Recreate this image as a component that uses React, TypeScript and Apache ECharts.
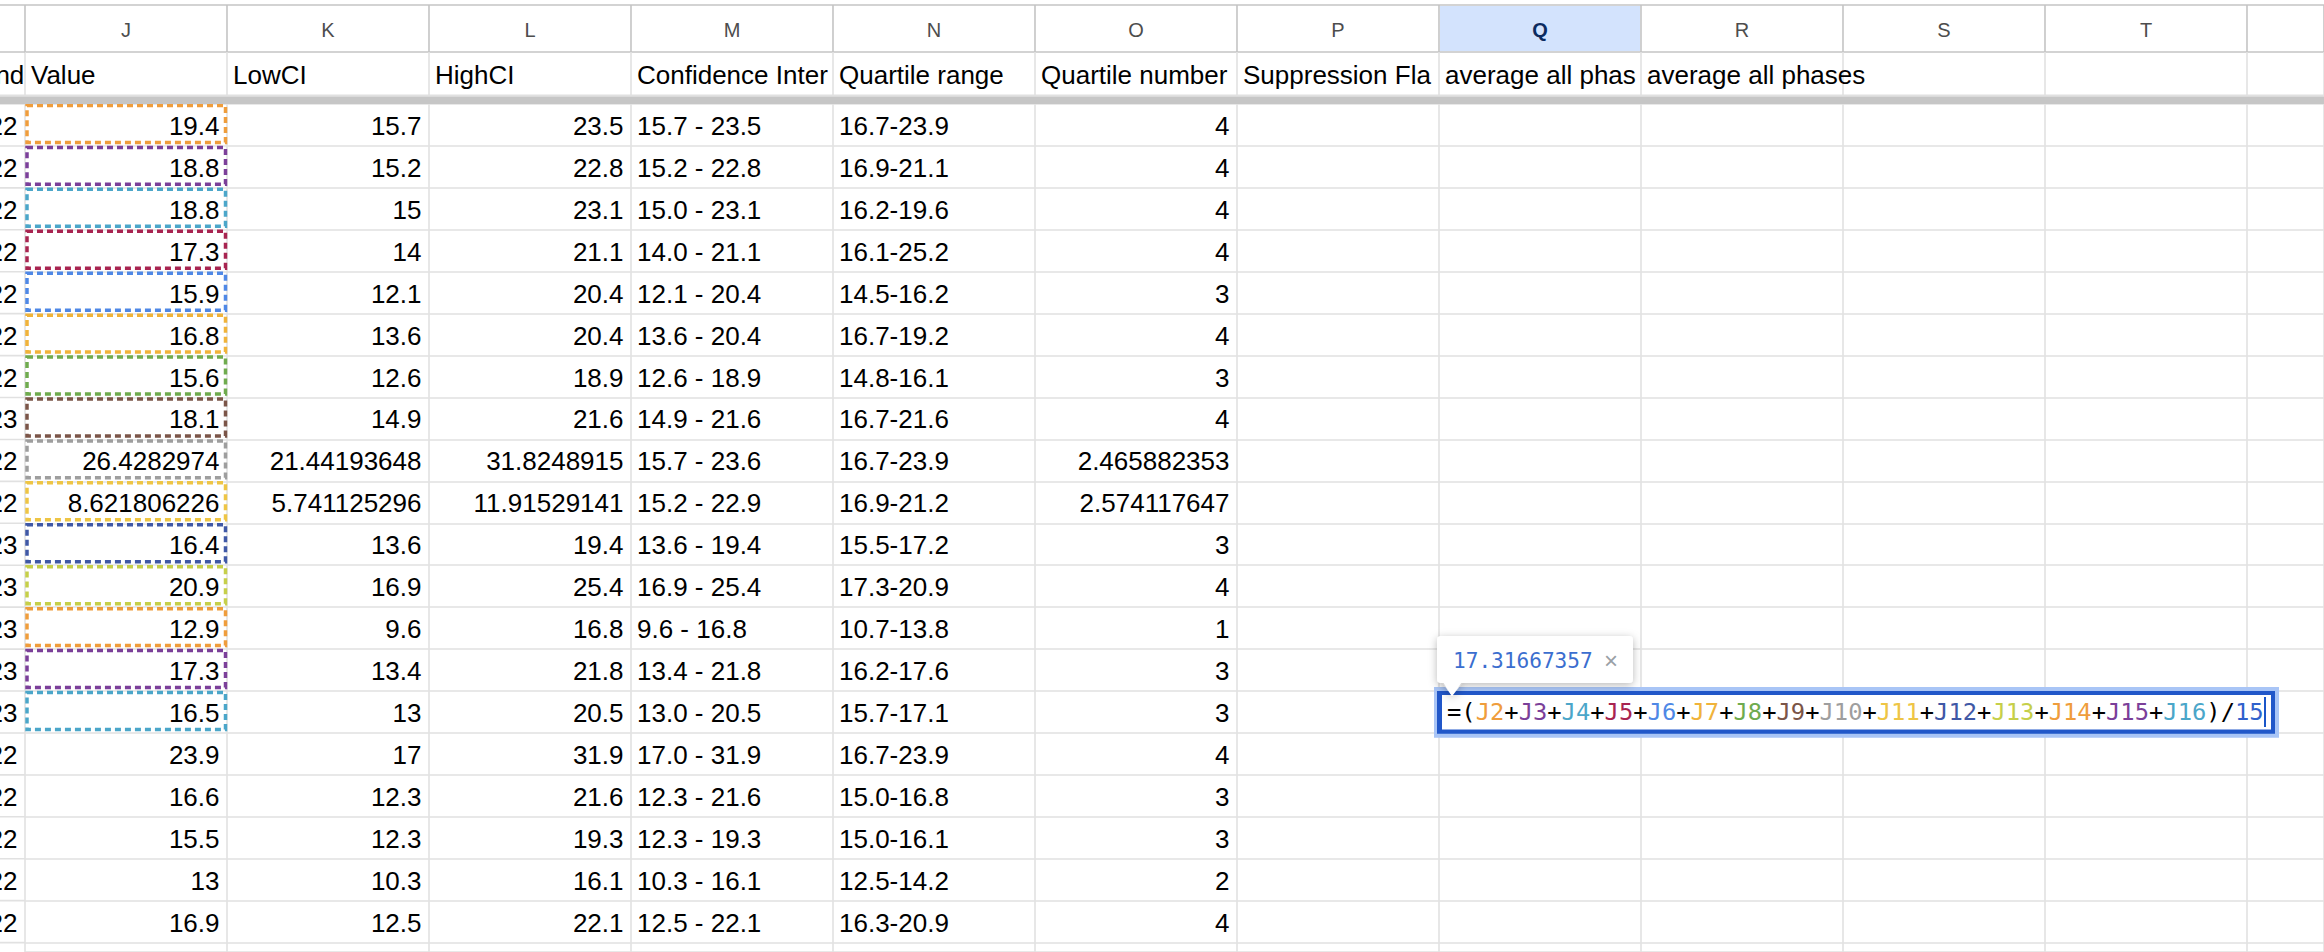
import React, { useEffect, useRef } from "react";
import * as echarts from "echarts";

// sheet content, columns J..O plus the clipped end of column I
const columnLetters = ["J", "K", "L", "M", "N", "O", "P", "Q", "R", "S", "T"];
const selectedLetter = "Q";
const headerNames = [
  "nd",
  "Value",
  "LowCI",
  "HighCI",
  "Confidence Inter",
  "Quartile range",
  "Quartile number",
  "Suppression Fla",
  "average all phas",
  "average all phases",
];
const yearEnd = ["22", "22", "22", "22", "22", "22", "22", "23", "22", "22", "23", "23", "23", "23", "23", "22", "22", "22", "22", "22"];
const values = [19.4, 18.8, 18.8, 17.3, 15.9, 16.8, 15.6, 18.1, 26.4282974, 8.621806226, 16.4, 20.9, 12.9, 17.3, 16.5, 23.9, 16.6, 15.5, 13, 16.9];
const lowCI = [15.7, 15.2, 15, 14, 12.1, 13.6, 12.6, 14.9, 21.44193648, 5.741125296, 13.6, 16.9, 9.6, 13.4, 13, 17, 12.3, 12.3, 10.3, 12.5];
const highCI = [23.5, 22.8, 23.1, 21.1, 20.4, 20.4, 18.9, 21.6, 31.8248915, 11.91529141, 19.4, 25.4, 16.8, 21.8, 20.5, 31.9, 21.6, 19.3, 16.1, 22.1];
const ciRange = [
  "15.7 - 23.5", "15.2 - 22.8", "15.0 - 23.1", "14.0 - 21.1", "12.1 - 20.4",
  "13.6 - 20.4", "12.6 - 18.9", "14.9 - 21.6", "15.7 - 23.6", "15.2 - 22.9",
  "13.6 - 19.4", "16.9 - 25.4", "9.6 - 16.8", "13.4 - 21.8", "13.0 - 20.5",
  "17.0 - 31.9", "12.3 - 21.6", "12.3 - 19.3", "10.3 - 16.1", "12.5 - 22.1",
];
const quartileRange = [
  "16.7-23.9", "16.9-21.1", "16.2-19.6", "16.1-25.2", "14.5-16.2",
  "16.7-19.2", "14.8-16.1", "16.7-21.6", "16.7-23.9", "16.9-21.2",
  "15.5-17.2", "17.3-20.9", "10.7-13.8", "16.2-17.6", "15.7-17.1",
  "16.7-23.9", "15.0-16.8", "15.0-16.1", "12.5-14.2", "16.3-20.9",
];
const quartileNumber = [4, 4, 4, 4, 3, 4, 3, 4, 2.465882353, 2.574117647, 3, 4, 1, 3, 3, 4, 3, 3, 2, 4];
// one colour per reference J2..J16 in the formula
const refColors = [
  "#ef9d3c", "#7b3f99", "#4ba6c9", "#a82450", "#4f88e6",
  "#f0b33a", "#6fab4e", "#7b5548", "#9e9e9e", "#eec545",
  "#3f58a6", "#c6cf4a", "#ef9d3c", "#7b3f99", "#4ba6c9",
];
const formulaValue = "17.31667357";

const W = 2324;
const H = 952;
const COL_W = 202;
const ROW_H = 41.93;
const GRID_LEFT = 25;
const X_MAX = (W - GRID_LEFT) / COL_W;
const DATA_TOP = 104;
const Y_MAX = (H - DATA_TOP) / ROW_H;
const FONT = "'Liberation Sans', Arial, Helvetica, sans-serif";
const MONO = "'DejaVu Sans Mono', monospace";
const LINE_W = 1.6;
const DARK_LINE = "#c4c4c4";
const LIGHT_LINE = "#e1e1e1";

type Cell = { text: string; align: "left" | "right"; pad: number };

// column -1 is the clipped column I, column 0 is J
const dataCells: Cell[] = [];
const dataItems: number[][] = [];
const addCell = (col: number, row: number, text: string, align: "left" | "right", pad?: number) => {
  dataItems.push([col, row, dataCells.length]);
  dataCells.push({ text, align, pad: pad ?? (align === "right" ? 7.5 : 6) });
};
yearEnd.forEach((y, r) => {
  addCell(-1, r, y, "right");
  addCell(0, r, String(values[r]), "right");
  addCell(1, r, String(lowCI[r]), "right");
  addCell(2, r, String(highCI[r]), "right");
  addCell(3, r, ciRange[r], "left");
  addCell(4, r, quartileRange[r], "left");
  addCell(5, r, String(quartileNumber[r]), "right");
});

const headerCells: Cell[] = headerNames.map((t, i) =>
  i === 0 ? { text: t, align: "right", pad: 0.7 } : { text: t, align: "left", pad: 6 }
);

const cellRenderer = (list: Cell[], fontSize: number) => (_params: any, api: any) => {
  const [x, y] = api.coord([api.value(0), api.value(1)]);
  const [w, h] = api.size([1, 1]);
  const c = list[api.value(2)];
  return {
    type: "text",
    style: {
      x: c.align === "right" ? x + w - c.pad : x + c.pad,
      y: y + h / 2 + 1,
      text: c.text,
      fill: "#000",
      fontSize,
      fontFamily: FONT,
      align: c.align,
      verticalAlign: "middle",
    },
  };
};

// row lines of the clipped column I, which lies left of the grids
const edgeRenderer = (color: string) => (_params: any, api: any) => {
  const [x, y] = api.coord([api.value(0), api.value(1)]);
  const [x2] = api.coord([api.value(0) + 1, api.value(1)]);
  return { type: "line", shape: { x1: x, y1: y, x2, y2: y }, style: { stroke: color, lineWidth: LINE_W } };
};

const xAxisFor = (gridIndex: number, color: string) => ({
  type: "value" as const,
  gridIndex,
  min: 0,
  max: X_MAX,
  interval: 1,
  axisLine: { show: false },
  axisTick: { show: false },
  axisLabel: { show: false },
  splitLine: { show: true, lineStyle: { color, width: LINE_W } },
});

const yAxisFor = (gridIndex: number, max: number, color: string | null) => ({
  type: "value" as const,
  gridIndex,
  min: 0,
  max,
  interval: 1,
  inverse: true,
  axisLine: { show: false },
  axisTick: { show: false },
  axisLabel: { show: false },
  splitLine: { show: color !== null, lineStyle: { color: color ?? "#fff", width: LINE_W } },
});

const buildFormula = () => {
  const rich: Record<string, any> = {
    op: { fill: "#000", fontSize: 23.8, fontFamily: MONO },
    num: { fill: "#2f61cc", fontSize: 23.8, fontFamily: MONO },
  };
  let text = "{op|=(}";
  refColors.forEach((color, i) => {
    rich["c" + i] = { fill: color, fontSize: 23.8, fontFamily: MONO };
    text += `{c${i}|J${i + 2}}`;
    if (i < refColors.length - 1) text += "{op|+}";
  });
  text += `{op|)/}{num|${refColors.length}}`;
  return { text, rich };
};

const App: React.FC = () => {
  const chartRef = useRef<HTMLDivElement>(null);

  useEffect(() => {
    const chart = echarts.init(chartRef.current as HTMLDivElement, undefined, { renderer: "svg" });
    const formula = buildFormula();
    const dataRowLines = Array.from({ length: Math.floor(Y_MAX) + 1 }, (_, r) => [-1, r]);

    const option: any = {
      animation: false,
      backgroundColor: "#ffffff",
      grid: [
        { left: GRID_LEFT, right: 0, top: 5, height: 47 },
        { left: GRID_LEFT, right: 0, top: 52, height: 43 },
        { left: GRID_LEFT, right: 0, top: DATA_TOP, bottom: 0 },
      ],
      xAxis: [xAxisFor(0, DARK_LINE), xAxisFor(1, LIGHT_LINE), xAxisFor(2, LIGHT_LINE)],
      yAxis: [yAxisFor(0, 1, DARK_LINE), yAxisFor(1, 1, null), yAxisFor(2, Y_MAX, LIGHT_LINE)],
      graphic: [
        { type: "rect", z: 10, shape: { x: 0, y: 94.5, width: W, height: 2 }, style: { fill: "#e0e0e0" } },
        { type: "rect", z: 10, shape: { x: 0, y: 96.5, width: W, height: 7.5 }, style: { fill: "#c6c6c6" } },
      ],
      series: [
        {
          type: "custom",
          name: "edgeHeader",
          xAxisIndex: 0,
          yAxisIndex: 0,
          silent: true,
          data: [[-1, 0], [-1, 1]],
          renderItem: edgeRenderer(DARK_LINE),
        },
        {
          type: "custom",
          name: "edgeRows",
          xAxisIndex: 2,
          yAxisIndex: 2,
          silent: true,
          data: dataRowLines,
          renderItem: edgeRenderer(LIGHT_LINE),
        },
        {
          type: "custom",
          name: "letters",
          xAxisIndex: 0,
          yAxisIndex: 0,
          silent: true,
          data: columnLetters.map((_, i) => [i, 0, i]),
          renderItem: (_params: any, api: any) => {
            const [x, y] = api.coord([api.value(0), 0]);
            const [w, h] = api.size([1, 1]);
            const letter = columnLetters[api.value(2)];
            const sel = letter === selectedLetter;
            const children: any[] = [];
            if (sel) {
              children.push({
                type: "rect",
                shape: { x: x + 1, y: y + 1, width: w - 2, height: h - 2 },
                style: { fill: "#d3e3fd" },
              });
            }
            children.push({
              type: "text",
              style: {
                x: x + w / 2,
                y: y + h / 2 + 1,
                text: letter,
                fill: sel ? "#0b2b60" : "#4d4d4d",
                fontSize: 20,
                fontWeight: sel ? "bold" : "normal",
                fontFamily: FONT,
                align: "center",
                verticalAlign: "middle",
              },
            });
            return { type: "group", children };
          },
        },
        {
          type: "custom",
          name: "headers",
          xAxisIndex: 1,
          yAxisIndex: 1,
          silent: true,
          data: headerNames.map((_, i) => [i - 1, 0, i]),
          renderItem: cellRenderer(headerCells, 26),
        },
        {
          type: "custom",
          name: "cells",
          xAxisIndex: 2,
          yAxisIndex: 2,
          silent: true,
          data: dataItems,
          renderItem: cellRenderer(dataCells, 26),
        },
        {
          type: "custom",
          name: "refs",
          xAxisIndex: 2,
          yAxisIndex: 2,
          silent: true,
          z: 3,
          data: refColors.map((_, i) => [0, i, i]),
          renderItem: (_params: any, api: any) => {
            const [x, y] = api.coord([api.value(0), api.value(1)]);
            const [w, h] = api.size([1, 1]);
            return {
              type: "rect",
              shape: { x: x + 2, y: y + 1.5, width: w - 3.5, height: h - 5 },
              style: { fill: "none", stroke: refColors[api.value(2)], lineWidth: 3.5, lineDash: [6, 4] },
            };
          },
        },
        {
          type: "custom",
          name: "formula",
          xAxisIndex: 2,
          yAxisIndex: 2,
          silent: true,
          z: 6,
          data: [[columnLetters.indexOf(selectedLetter), refColors.length - 1]],
          renderItem: (_params: any, api: any) => {
            const [cx, cy] = api.coord([api.value(0), api.value(1)]);
            const shadow = { shadowBlur: 8, shadowColor: "rgba(0,0,0,0.28)", shadowOffsetY: 2 };
            const pointer = [
              [cx + 3, cy - 9],
              [cx + 24, cy - 9],
              [cx + 13, cy + 5],
            ];
            return {
              type: "group",
              children: [
                { type: "rect", shape: { x: cx - 5, y: cy - 4, width: 845, height: 50.7 }, style: { fill: "#a9c5f6" } },
                { type: "rect", shape: { x: cx - 2, y: cy, width: 838, height: 42.7 }, style: { fill: "#2157c9" } },
                { type: "rect", shape: { x: cx + 3, y: cy + 4, width: 829, height: 34.5 }, style: { fill: "#ffffff" } },
                {
                  type: "text",
                  style: {
                    x: cx + 8,
                    y: cy + 21,
                    text: formula.text,
                    rich: formula.rich,
                    fontSize: 23.8,
                    fontFamily: MONO,
                    align: "left",
                    verticalAlign: "middle",
                  },
                },
                { type: "line", shape: { x1: cx + 826, y1: cy + 6, x2: cx + 826, y2: cy + 36 }, style: { stroke: "#1a56c8", lineWidth: 2 } },
                { type: "polygon", shape: { points: pointer }, style: { fill: "#fff", ...shadow } },
                { type: "rect", shape: { x: cx - 2, y: cy - 55, width: 196, height: 47, r: 4 }, style: { fill: "#fff", ...shadow } },
                { type: "polygon", shape: { points: pointer.map(([px, py], i) => [px, i < 2 ? py - 1.5 : py]) }, style: { fill: "#fff" } },
                {
                  type: "text",
                  style: {
                    x: cx + 14,
                    y: cy - 31,
                    text: formulaValue,
                    fill: "#3b6ecf",
                    fontSize: 21.1,
                    fontFamily: MONO,
                    align: "left",
                    verticalAlign: "middle",
                  },
                },
                {
                  type: "text",
                  style: {
                    x: cx + 172,
                    y: cy - 31,
                    text: "×",
                    fill: "#9aa0a6",
                    fontSize: 24,
                    fontFamily: FONT,
                    align: "center",
                    verticalAlign: "middle",
                  },
                },
              ],
            };
          },
        },
      ],
    };

    chart.setOption(option);
    return () => {
      chart.dispose();
    };
  }, []);

  return (
    <div
      ref={chartRef}
      style={{ position: "fixed", left: 0, top: 0, width: W + "px", height: H + "px", background: "#fff" }}
    />
  );
};

export default App;
